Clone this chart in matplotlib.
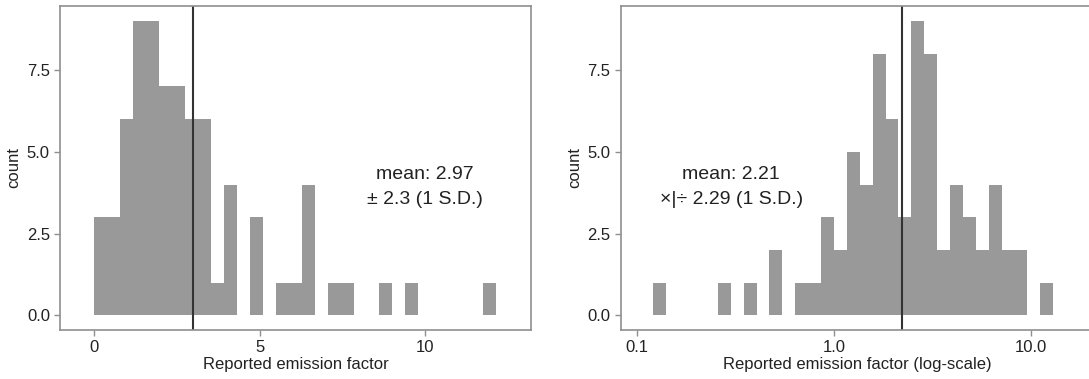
import numpy as np
import matplotlib
matplotlib.use("Agg")
import matplotlib.pyplot as plt

plt.rcParams['font.family'] = ['Liberation Sans', 'DejaVu Sans']

# ---- data ----
# Left: linear-scale histogram (bin start, bin width, counts per bin)
lin_bin_start = 0.0
lin_bin_width = 0.392
lin_counts = [3, 3, 6, 9, 9, 7, 7, 6, 6, 1, 4, 0, 3, 0, 1, 1, 4, 0, 1, 1,
              0, 0, 1, 0, 1, 0, 0, 0, 0, 0, 1]
lin_mean = 2.97
lin_text = "mean: 2.97\n± 2.3 (1 S.D.)"

# Right: log-scale histogram (bins in log10 units)
log_bin_start = -0.9167
log_bin_width = 0.0655
log_counts = [1, 0, 0, 0, 0, 1, 0, 1, 0, 2, 0, 1, 1, 3, 2, 5, 4, 8, 6, 3,
              9, 8, 2, 4, 3, 2, 4, 2, 2, 0, 1]
log_mean = 2.21
log_text = "mean: 2.21\n×|÷ 2.29 (1 S.D.)"

lin_xticks = [0, 5, 10]
lin_xticklabels = ["0", "5", "10"]
log_xticks = [0.1, 1.0, 10.0]
log_xticklabels = ["0.1", "1.0", "10.0"]
yticks = [0.0, 2.5, 5.0, 7.5]
yticklabels = ["0.0", "2.5", "5.0", "7.5"]

bar_color = "#999999"
line_color = "#333333"
spine_color = "#8f8f8f"
text_color = "#222222"

fig = plt.figure(figsize=(10.89, 3.79), dpi=100)
ax1 = fig.add_axes([60.3 / 1089, 1 - 330 / 379, 470.4 / 1089, 324.3 / 379])
ax2 = fig.add_axes([621 / 1089, 1 - 330 / 379, 472 / 1089, 324.3 / 379])

def style(ax):
    for s in ax.spines.values():
        s.set_color(spine_color)
        s.set_linewidth(1.2)
    ax.tick_params(axis='both', colors=spine_color, labelcolor=text_color,
                   length=4.5, width=1.0, labelsize=12, pad=3)
    ax.set_yticks(yticks)
    ax.set_yticklabels(yticklabels)
    ax.set_ylim(-0.45, 9.47)
    ax.set_ylabel("count", fontsize=12, color=text_color, labelpad=4)

# Left panel
lefts = lin_bin_start + lin_bin_width * np.arange(len(lin_counts))
ax1.bar(lefts, lin_counts, width=lin_bin_width, align='edge',
        color=bar_color, linewidth=0)
ax1.axvline(lin_mean, color=line_color, linewidth=1.5)
ax1.set_xlim(-1.03, 13.2)
ax1.set_xticks(lin_xticks)
ax1.set_xticklabels(lin_xticklabels)
ax1.set_xlabel("Reported emission factor", fontsize=12, color=text_color,
               labelpad=1)
ax1.text(10.0, 3.93, lin_text, ha='center', va='center', fontsize=14,
         color=text_color, linespacing=1.65)
style(ax1)

# Right panel (log scale)
log_edges = log_bin_start + log_bin_width * np.arange(len(log_counts) + 1)
edges = 10 ** log_edges
ax2.bar(edges[:-1], log_counts, width=np.diff(edges), align='edge',
        color=bar_color, linewidth=0)
ax2.set_xscale('log')
ax2.axvline(log_mean, color=line_color, linewidth=1.5)
ax2.set_xlim(10 ** -1.0815, 10 ** 1.3165)
ax2.set_xticks(log_xticks)
ax2.set_xticklabels(log_xticklabels)
ax2.xaxis.set_minor_locator(matplotlib.ticker.NullLocator())
ax2.set_xlabel("Reported emission factor (log-scale)", fontsize=12,
               color=text_color, labelpad=1)
ax2.text(10 ** -0.521, 3.93, log_text, ha='center', va='center', fontsize=14,
         color=text_color, linespacing=1.65)
style(ax2)

fig.savefig("out.png", dpi=100)
